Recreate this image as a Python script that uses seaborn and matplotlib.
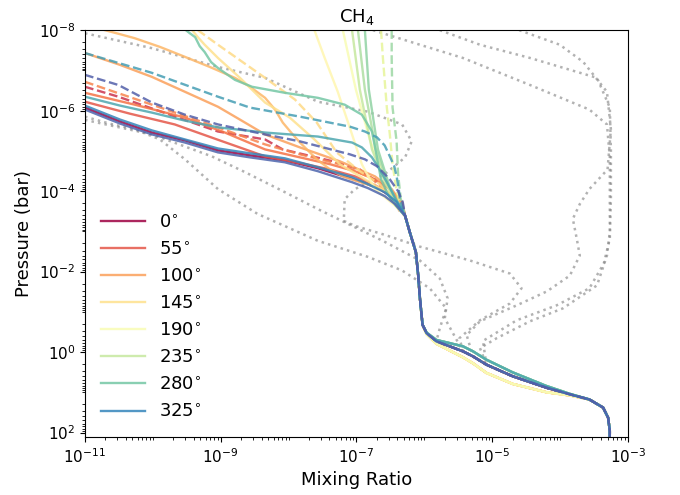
import matplotlib
matplotlib.use("Agg")
import matplotlib.pyplot as plt
from matplotlib.ticker import LogLocator, NullFormatter
import seaborn as sns

# ---------------------------------------------------------------
# CH4 mixing-ratio profiles (mixing ratio, pressure in bar)
# ---------------------------------------------------------------

# deep-atmosphere branch shared by every longitude below ~0.4 mbar
deep_x = [5.2e-7, 6.1e-7, 7.5e-7, 8.1e-7, 8.6e-7, 9.4e-7, 1.08e-6, 1.5e-6,
          3.7e-6, 5.2e-6, 8.2e-6, 2.0e-5, 6.3e-5, 1.4e-4, 2.7e-4, 4.3e-4,
          5.1e-4, 5.4e-4, 5.4e-4]
deep_p = [4.1e-4, 1.05e-3, 3.3e-3, 1.2e-2, 4.6e-2, 0.21, 0.34, 0.54,
          0.96, 1.28, 2.06, 4.0, 7.7, 11.3, 15.1, 24.0, 43.0, 91.0, 130.0]
# day-side (warm) and night-side (cool) variants of the same branch
deep_warm_p = [4.1e-4, 1.05e-3, 3.3e-3, 1.2e-2, 4.6e-2, 0.21, 0.36, 0.62,
               1.35, 1.9, 3.3, 6.2, 10.0, 12.0, 15.1, 24.0, 43.0, 91.0, 130.0]
deep_cool_p = [4.1e-4, 1.05e-3, 3.3e-3, 1.2e-2, 4.6e-2, 0.21, 0.33, 0.50,
               0.72, 0.96, 1.55, 3.2, 7.0, 11.0, 15.1, 24.0, 43.0, 91.0, 130.0]

# upper-atmosphere branches, solid set
sol_0_x = [1e-11, 3.3e-11, 9.7e-11, 2.97e-10, 9.1e-10, 2.7e-9, 8.8e-9, 2.7e-8,
           5.7e-8, 1.33e-7, 2.2e-7, 3.7e-7, 4.8e-7]
sol_0_p = [8.4e-7, 1.87e-6, 3.5e-6, 5.5e-6, 9.7e-6, 1.29e-5, 1.72e-5, 2.7e-5,
           4.0e-5, 6.3e-5, 8.9e-5, 1.58e-4, 2.8e-4]
sol_55_x = [1e-11, 4.6e-11, 2.1e-10, 9.7e-10, 4.5e-9, 1.47e-8, 4.1e-8, 9.5e-8,
            1.87e-7, 3.1e-7, 4.35e-7]
sol_55_p = [6.0e-7, 1.19e-6, 2.2e-6, 5.5e-6, 1.37e-5, 2.0e-5, 2.9e-5, 4.3e-5,
            7.1e-5, 1.19e-4, 2.2e-4]
sol_75_x = [1e-11, 5.4e-11, 2.97e-10, 1.15e-9, 4.5e-9, 1.47e-8, 4.1e-8,
            9.5e-8, 1.87e-7, 3.1e-7, 4.7e-7]
sol_75_p = [3.6e-7, 7.1e-7, 1.49e-6, 3.5e-6, 9.2e-6, 1.45e-5, 2.15e-5,
            3.2e-5, 5.1e-5, 8.9e-5, 1.87e-4]
sol_100_x = [1e-11, 3.3e-11, 9.7e-11, 2.97e-10, 9.1e-10, 1.92e-9, 4.5e-9,
             1.47e-8, 5.7e-8, 1.87e-7, 3.3e-7, 4.7e-7]
sol_100_p = [3.7e-8, 7.3e-8, 1.45e-7, 3.4e-7, 8.0e-7, 1.67e-6, 3.9e-6,
             8.2e-6, 1.82e-5, 4.3e-5, 8.9e-5, 2.1e-4]
sol_115_x = [1.97e-11, 3.3e-11, 5.4e-11, 1.27e-10, 2.97e-10, 6.9e-10, 1.62e-9,
             2.7e-9, 4.5e-9, 6.3e-9, 8.2e-9, 1.12e-8, 1.47e-8, 2.06e-8,
             2.6e-8, 4.1e-8, 6.3e-8, 1.24e-7, 2.45e-7, 3.7e-7, 4.8e-7]
sol_115_p = [1e-8, 1.26e-8, 1.58e-8, 2.6e-8, 4.6e-8, 8.2e-8, 1.53e-7,
             2.55e-7, 4.8e-7, 9.4e-7, 1.98e-6, 3.7e-6, 6.2e-6, 1.09e-5,
             1.62e-5, 2.9e-5, 4.3e-5, 6.3e-5, 8.9e-5, 1.41e-4, 2.8e-4]
sol_145_x = [3.8e-10, 4.6e-10, 5.8e-10, 7.2e-10, 9.1e-10, 1.92e-9, 4.5e-9,
             1.04e-8, 2.4e-8, 5.7e-8, 1.33e-7, 2.6e-7, 4.35e-7]
sol_145_p = [1e-8, 1.49e-8, 2.3e-8, 3.3e-8, 4.9e-8, 1.53e-7, 6.3e-7,
             1.49e-6, 5.2e-6, 2.15e-5, 5.1e-5, 1.0e-4, 2.1e-4]
sol_170_x = [2.4e-8, 3.4e-8, 5.3e-8, 8.6e-8, 1.2e-7, 1.87e-7, 3.7e-7]
sol_170_p = [1e-8, 4.9e-8, 3.4e-7, 3.9e-6, 2.15e-5, 8.9e-5, 2.3e-4]
sol_190_x = [6.3e-8, 9.8e-8, 1.57e-7, 2.6e-7, 4.1e-7]
sol_190_p = [1e-8, 3.0e-7, 5.2e-6, 5.1e-5, 2.1e-4]
sol_235_x = [8.6e-8, 1.12e-7, 1.69e-7, 2.7e-7, 4.2e-7]
sol_235_p = [1e-8, 3.0e-7, 9.2e-6, 6.7e-5, 2.5e-4]
sol_250_x = [1.05e-7, 1.33e-7, 1.93e-7, 2.9e-7, 4.35e-7]
sol_250_p = [1e-8, 3.0e-7, 9.2e-6, 6.7e-5, 2.8e-4]
sol_265_x = [1.33e-7, 1.52e-7, 2.07e-7, 3.0e-7, 4.5e-7]
sol_265_p = [1e-8, 3.0e-7, 9.2e-6, 6.7e-5, 3.2e-4]
sol_280_x = [3.07e-10, 3.5e-10, 4.2e-10, 4.9e-10, 5.8e-10, 7.2e-10, 9.1e-10,
             1.62e-9, 2.9e-9, 8.8e-9, 2.7e-8, 6.7e-8, 1.2e-7, 1.69e-7,
             2.0e-7, 2.3e-7, 2.9e-7, 3.8e-7]
sol_280_p = [1e-8, 1.19e-8, 1.49e-8, 2.5e-8, 3.5e-8, 6.2e-8, 8.7e-8,
             1.72e-7, 2.55e-7, 3.6e-7, 4.8e-7, 7.1e-7, 1.26e-6, 3.3e-6,
             1.45e-5, 5.1e-5, 1.19e-4, 2.3e-4]
sol_305_x = [1e-11, 3.3e-11, 9.7e-11, 2.97e-10, 9.1e-10, 4.5e-9, 2.7e-8,
             8.6e-8, 1.2e-7, 1.69e-7, 2.2e-7, 2.9e-7, 3.8e-7, 4.7e-7]
sol_305_p = [4.5e-7, 7.5e-7, 1.12e-6, 1.77e-6, 2.6e-6, 3.5e-6, 4.4e-6,
             6.2e-6, 8.2e-6, 1.45e-5, 2.9e-5, 6.7e-5, 1.58e-4, 2.8e-4]
sol_325_x = [1e-11, 3.3e-11, 9.7e-11, 2.97e-10, 9.1e-10, 2.7e-9, 8.8e-9,
             2.7e-8, 8.6e-8, 1.47e-7, 2.6e-7, 3.9e-7]
sol_325_p = [7.5e-7, 1.67e-6, 3.1e-6, 5.2e-6, 8.7e-6, 1.15e-5, 1.53e-5,
             2.55e-5, 4.5e-5, 6.7e-5, 1.06e-4, 1.87e-4]
sol_345_x = [1e-11, 3.3e-11, 9.7e-11, 2.97e-10, 9.1e-10, 2.7e-9, 8.8e-9,
             2.7e-8, 8.6e-8, 1.47e-7, 2.6e-7, 3.7e-7]
sol_345_p = [9.4e-7, 2.1e-6, 3.9e-6, 6.2e-6, 1.09e-5, 1.45e-5, 1.92e-5,
             3.2e-5, 6.0e-5, 8.4e-5, 1.33e-4, 2.1e-4]

# upper-atmosphere branches, dashed set
dash_30_x = [1e-11, 3.1e-11, 9.1e-10, 4.5e-9, 8.2e-9, 4.5e-8, 1.12e-7,
             2.45e-7, 3.7e-7]
dash_30_p = [2.55e-7, 4.5e-7, 3.3e-6, 5.2e-6, 9.2e-6, 1.82e-5, 2.9e-5,
             7.5e-5, 2.1e-4]
dash_85_x = [1e-11, 9.7e-11, 9.1e-10, 4.5e-9, 1.47e-8, 5.7e-8, 1.57e-7,
             3.1e-7, 4.35e-7]
dash_85_p = [1.92e-7, 7.1e-7, 2.6e-6, 6.9e-6, 1.22e-5, 2.15e-5, 4.5e-5,
             1.19e-4, 3.2e-4]
dash_140_x = [4.6e-10, 9.1e-10, 4.5e-9, 1.24e-8, 2.6e-8, 5.1e-8, 1.12e-7,
              2.2e-7, 4.1e-7]
dash_140_p = [1e-8, 2.3e-8, 1.53e-7, 5.3e-7, 1.98e-6, 1.09e-5, 3.2e-5,
              6.7e-5, 1.87e-4]
dash_215_x = [2.3e-7, 2.45e-7, 2.8e-7, 3.1e-7, 3.4e-7, 3.9e-7, 4.7e-7]
dash_215_p = [1e-8, 4.9e-8, 8.4e-7, 3.9e-6, 2.15e-5, 1.0e-4, 3.2e-4]
dash_260_x = [3.3e-7, 3.3e-7, 3.4e-7, 3.9e-7, 4.1e-7, 4.5e-7]
dash_260_p = [1e-8, 4.9e-8, 8.4e-7, 5.8e-6, 3.8e-5, 1.58e-4]
dash_310_x = [1e-11, 9.7e-11, 9.1e-10, 2.7e-9, 1.47e-8, 8.0e-8, 1.33e-7,
              2.0e-7, 2.6e-7, 3.1e-7, 3.6e-7, 3.9e-7, 4.2e-7, 4.35e-7]
dash_310_p = [3.7e-8, 1.15e-7, 4.5e-7, 8.4e-7, 1.41e-6, 2.5e-6, 3.3e-6,
              4.6e-6, 7.3e-6, 1.37e-5, 2.4e-5, 4.3e-5, 8.9e-5, 1.58e-4]
dash_350_x = [1e-11, 3.1e-11, 9.7e-11, 2.97e-10, 9.1e-10, 4.5e-9, 1.47e-8,
              8.0e-8, 1.33e-7, 2.0e-7, 3.1e-7, 4.1e-7, 4.8e-7]
dash_350_p = [1.29e-7, 2.3e-7, 6.3e-7, 1.26e-6, 2.2e-6, 3.9e-6, 5.8e-6,
              1.22e-5, 1.62e-5, 2.4e-5, 5.1e-5, 1.0e-4, 1.87e-4]

# comparison profiles (grey dotted)
ref_a_x = [1e-11, 9.7e-11, 9.1e-10, 4.5e-9, 2.7e-8, 1.47e-7, 4.7e-7, 6.5e-7,
           5.2e-7, 2.6e-7, 9.5e-8, 6.7e-8, 6.5e-8, 9.5e-8, 2.6e-7, 8.6e-7,
           4.7e-6, 1.82e-5, 2.7e-5, 1.82e-5, 6.6e-6, 3.3e-6]
ref_a_p = [1.19e-8, 2.8e-8, 8.2e-8, 1.53e-7, 6.0e-7, 1.06e-6, 2.2e-6, 5.8e-6,
           1.45e-5, 3.8e-5, 8.9e-5, 1.58e-4, 5.5e-4, 7.3e-4, 1.22e-3, 2.4e-3,
           5.3e-3, 1.12e-2, 2.6e-2, 6.2e-2, 0.162, 0.45]
ref_b_x = [1.75e-7, 8.6e-7, 3.7e-6, 3.6e-5, 2.7e-4, 4.9e-4, 5.4e-4, 5.4e-4,
           5.4e-4, 4.9e-4, 3.5e-4, 1.1e-4, 3.6e-5, 1.17e-5, 6.6e-6]
ref_b_p = [1e-8, 2.3e-8, 4.9e-8, 2.3e-7, 9.4e-7, 2.2e-6, 1.45e-5, 2.1e-4,
           1.03e-3, 4.0e-3, 2.2e-2, 8.2e-2, 0.172, 0.45, 0.80]
ref_c_x = [1.69e-6, 6.6e-6, 3.6e-5, 3.5e-4, 5.4e-4, 5.6e-4, 5.6e-4, 5.4e-4,
           4.4e-4, 2.7e-4, 8.9e-5, 2.3e-5, 7.3e-6]
ref_c_p = [1e-8, 2.3e-8, 4.9e-8, 1.53e-7, 8.4e-7, 9.2e-6, 1.58e-4, 1.53e-3,
           6.3e-3, 2.6e-2, 6.9e-2, 0.162, 0.53]
ref_d_x = [2.5e-5, 9.9e-5, 2.2e-4, 4.9e-4, 5.6e-4, 5.0e-4, 2.7e-4, 1.95e-4,
           1.54e-4, 1.76e-4, 1.95e-4, 1.39e-4, 6.4e-5, 2.3e-5, 6.6e-6, 4.2e-6]
ref_d_p = [1e-8, 2.3e-8, 6.2e-8, 3.4e-7, 2.9e-6, 2.9e-5, 8.9e-5, 2.1e-4,
           4.9e-4, 1.53e-3, 4.0e-3, 1.26e-2, 3.1e-2, 6.9e-2, 0.172, 0.38]
ref_e_x = [1e-11, 2.3e-11, 5.4e-11, 1.27e-10, 2.97e-10, 9.1e-10, 3.5e-9,
           2.7e-8, 1.47e-7, 4.7e-7, 1.2e-6, 2.1e-6, 1.69e-6]
ref_e_p = [1.41e-6, 2.1e-6, 2.9e-6, 5.2e-6, 1.62e-5, 8.9e-5, 3.7e-4,
           1.72e-3, 4.3e-3, 9.4e-3, 2.6e-2, 8.2e-2, 0.255]
ref_f_x = [1e-11, 9.7e-11, 7.4e-10, 2.3e-9, 8.8e-9, 2.7e-8, 8.6e-8, 2.6e-7,
           8.6e-7, 1.69e-6, 2.2e-6, 2.0e-6]
ref_f_p = [1.7e-6, 3.9e-6, 1.37e-5, 3.4e-5, 1.06e-4, 2.8e-4, 7.3e-4, 1.82e-3,
           5.3e-3, 1.49e-2, 4.6e-2, 0.145]

legend_lons = [0, 55, 100, 145, 190, 235, 280, 325]

# (longitude, line style, upper x, upper p, deep branch pressures)
colored = [
    (0, "-", sol_0_x, sol_0_p, deep_p),
    (30, "--", dash_30_x, dash_30_p, deep_p),
    (55, "-", sol_55_x, sol_55_p, deep_p),
    (75, "-", sol_75_x, sol_75_p, deep_p),
    (85, "--", dash_85_x, dash_85_p, deep_warm_p),
    (100, "-", sol_100_x, sol_100_p, deep_warm_p),
    (115, "-", sol_115_x, sol_115_p, deep_warm_p),
    (140, "--", dash_140_x, dash_140_p, deep_warm_p),
    (145, "-", sol_145_x, sol_145_p, deep_warm_p),
    (170, "-", sol_170_x, sol_170_p, deep_warm_p),
    (190, "-", sol_190_x, sol_190_p, deep_warm_p),
    (215, "--", dash_215_x, dash_215_p, deep_cool_p),
    (235, "-", sol_235_x, sol_235_p, deep_cool_p),
    (250, "-", sol_250_x, sol_250_p, deep_cool_p),
    (260, "--", dash_260_x, dash_260_p, deep_cool_p),
    (265, "-", sol_265_x, sol_265_p, deep_cool_p),
    (280, "-", sol_280_x, sol_280_p, deep_cool_p),
    (305, "-", sol_305_x, sol_305_p, deep_cool_p),
    (310, "--", dash_310_x, dash_310_p, deep_p),
    (325, "-", sol_325_x, sol_325_p, deep_p),
    (345, "-", sol_345_x, sol_345_p, deep_p),
    (350, "--", dash_350_x, dash_350_p, deep_p),
]

# grey profiles join the deep branch at these indices
greys = [
    (ref_a_x, ref_a_p, 8), (ref_b_x, ref_b_p, 10), (ref_c_x, ref_c_p, 10),
    (ref_d_x, ref_d_p, 9), (ref_e_x, ref_e_p, 7), (ref_f_x, ref_f_p, 8),
]

cmap = sns.color_palette("Spectral", as_cmap=True)

fig, ax = plt.subplots(figsize=(6.8, 4.95), dpi=100)
fig.subplots_adjust(left=0.125, right=0.9235, bottom=0.117, top=0.939)
ax.set_xscale("log")
ax.set_yscale("log")

for gx, gp, j in greys:
    sns.lineplot(x=gx + deep_x[j:], y=gp + deep_p[j:], sort=False,
                 estimator=None, color="gray", alpha=0.6, lw=1.8,
                 linestyle=":", legend=False, ax=ax, zorder=1)

for lon, ls, ux, up, dp in colored:
    label = f"{lon}$^{{\\circ}}$" if (ls == "-" and lon in legend_lons) else None
    sns.lineplot(x=ux + deep_x, y=up + dp, sort=False, estimator=None,
                 color=cmap(lon / 360), alpha=0.85, lw=1.7, linestyle=ls,
                 label=label, legend=False, ax=ax, zorder=2)

ax.set_xlim(1e-11, 1e-3)
ax.set_ylim(130, 1e-8)
ax.set_xticks([1e-11, 1e-9, 1e-7, 1e-5, 1e-3])
ax.set_yticks([1e-8, 1e-6, 1e-4, 1e-2, 1e0, 1e2])
for axis in (ax.xaxis, ax.yaxis):
    axis.set_minor_locator(LogLocator(base=10, subs=range(1, 10), numticks=100))
    axis.set_minor_formatter(NullFormatter())
ax.tick_params(labelsize=11)

ax.set_xlabel("Mixing Ratio", fontsize=13)
ax.set_ylabel("Pressure (bar)", fontsize=13)
ax.set_title("CH$_4$", fontsize=13)

handles, labels = ax.get_legend_handles_labels()
order = sorted(range(len(labels)), key=lambda i: int(labels[i].split("$")[0]))
ax.legend([handles[i] for i in order], [labels[i] for i in order],
          loc="lower left", frameon=False, fontsize=13, handlelength=2.4)

fig.savefig("out.png", dpi=100)
